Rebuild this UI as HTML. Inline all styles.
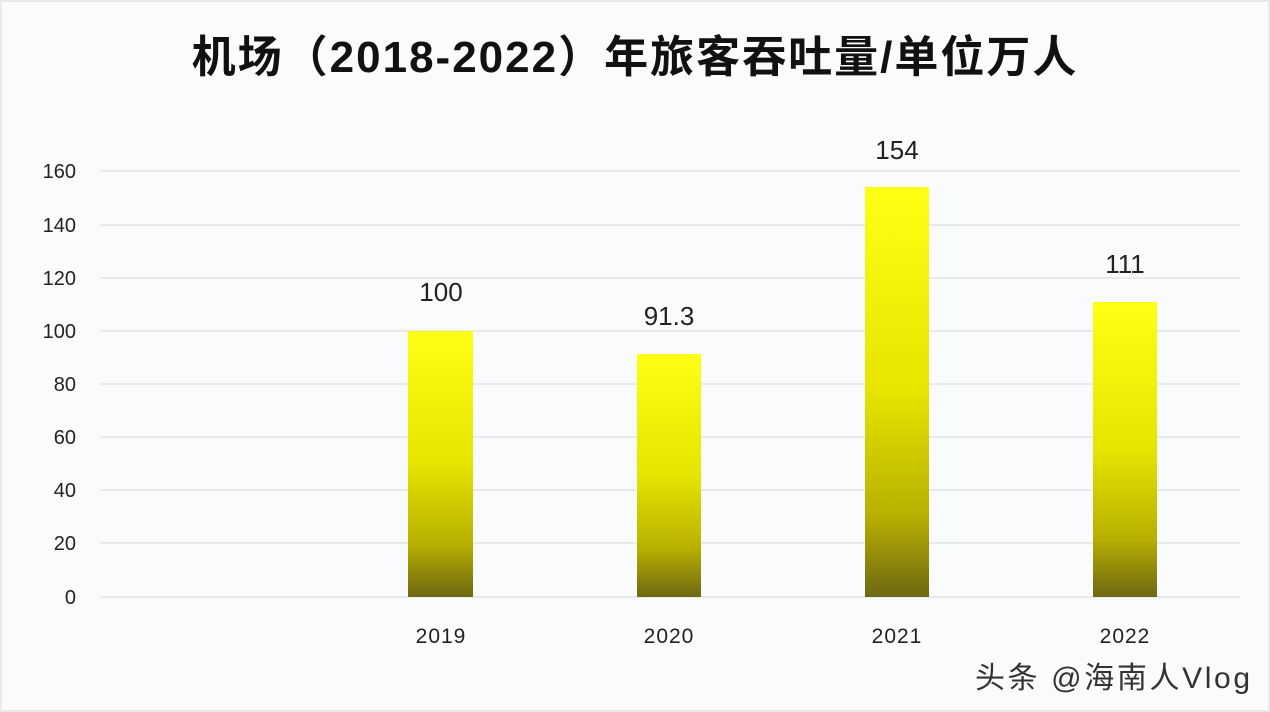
<!DOCTYPE html>
<html><head><meta charset="utf-8"><style>
body{margin:0;width:1270px;height:712px;background:#fafbfd;overflow:hidden;font-family:"Liberation Sans","Noto Sans CJK SC",sans-serif}
</style></head><body>
<svg width="1270" height="712" xmlns="http://www.w3.org/2000/svg" style="position:absolute;left:0;top:0">
<defs><linearGradient id="g" x1="0" y1="0" x2="0" y2="1">
<stop offset="0" stop-color="#ffff14"/><stop offset="0.5" stop-color="#e6e400"/><stop offset="0.8" stop-color="#b8b000"/><stop offset="1" stop-color="#6e6812"/></linearGradient></defs>
<rect x="1" y="1" width="1268" height="710" fill="#fafbfd" stroke="#d8d8d8"/>
<text x="635" y="72" text-anchor="middle" font-size="44" font-weight="bold" fill="#111" letter-spacing="2" font-family="Liberation Sans,Noto Sans CJK SC,sans-serif">机场（2018-2022）年旅客吞吐量/单位万人</text>
<g stroke="#dde0e6" stroke-width="1.3">
<line x1="100" x2="1240" y1="171" y2="171"/><line x1="100" x2="1240" y1="225" y2="225"/>
<line x1="100" x2="1240" y1="278" y2="278"/><line x1="100" x2="1240" y1="331" y2="331"/>
<line x1="100" x2="1240" y1="384" y2="384"/><line x1="100" x2="1240" y1="437" y2="437"/>
<line x1="100" x2="1240" y1="490" y2="490"/><line x1="100" x2="1240" y1="543" y2="543"/>
<line x1="100" x2="1240" y1="597" y2="597"/></g>
<g font-size="20" fill="#222" text-anchor="end">
<text x="76" y="178">160</text><text x="76" y="232">140</text><text x="76" y="285">120</text>
<text x="76" y="338">100</text><text x="76" y="391">80</text><text x="76" y="444">60</text>
<text x="76" y="497">40</text><text x="76" y="550">20</text><text x="76" y="604">0</text></g>
<g fill="url(#g)">
<rect x="408" y="331" width="65" height="266"/><rect x="637" y="354" width="64" height="243"/>
<rect x="865" y="187" width="64" height="410"/><rect x="1093" y="302" width="64" height="295"/></g>
<g font-size="26" fill="#222" text-anchor="middle">
<text x="441" y="301">100</text><text x="669" y="325">91.3</text><text x="897" y="159">154</text><text x="1125" y="273">111</text></g>
<g font-size="21" fill="#222" text-anchor="middle" letter-spacing="1">
<text x="441" y="643">2019</text><text x="669" y="643">2020</text><text x="897" y="643">2021</text><text x="1125" y="643">2022</text></g>
<text x="975" y="688" font-size="30" fill="#333" textLength="275">头条 @海南人Vlog</text>
</svg>
</body></html>
